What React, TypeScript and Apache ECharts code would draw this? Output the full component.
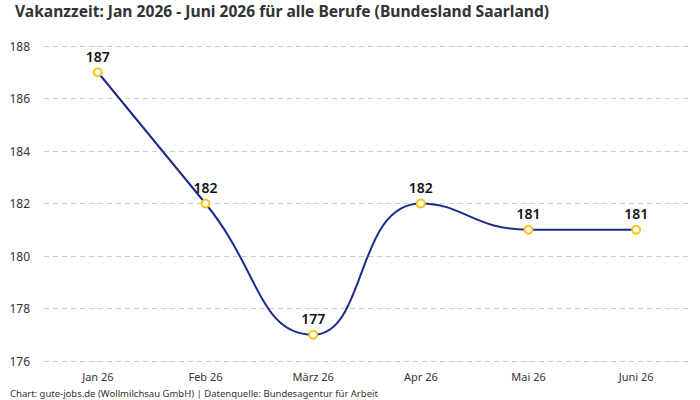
import React, { useEffect, useRef } from "react";
import * as echarts from "echarts";

const categories = ["Jan 26", "Feb 26", "März 26", "Apr 26", "Mai 26", "Juni 26"];
const values = [187, 182, 177, 182, 181, 181];
const titleText = "Vakanzzeit: Jan 2026 - Juni 2026 für alle Berufe (Bundesland Saarland)";
const footerText = "Chart: gute-jobs.de (Wollmilchsau GmbH) | Datenquelle: Bundesagentur für Arbeit";

export default function App() {
  const ref = useRef<HTMLDivElement>(null);
  useEffect(() => {
    if (!ref.current) return;
    const chart = echarts.init(ref.current, null, { renderer: "svg" });
    const font = "'Noto Sans', sans-serif";
    chart.setOption({
      animation: false,
      textStyle: { fontFamily: font },
      title: {
        text: titleText,
        left: 10,
        top: -2,
        textStyle: { fontFamily: font, fontSize: 15.6, fontWeight: "bold", color: "#333" },
      },
      graphic: [
        {
          type: "text",
          left: 10,
          top: 388,
          style: { text: footerText, fontFamily: font, fontSize: 9.5, fill: "#333" },
        },
      ],
      grid: { left: 44, right: 10, top: 46, bottom: 39, containLabel: false },
      xAxis: {
        type: "category",
        data: categories,
        boundaryGap: true,
        axisLine: { show: false },
        axisTick: { show: false },
        axisLabel: { color: "#333", fontSize: 11, margin: 10 },
      },
      yAxis: {
        type: "value",
        min: 176,
        max: 188,
        interval: 2,
        axisLine: { show: false },
        axisTick: { show: false },
        axisLabel: { color: "#333", fontSize: 12, margin: 14 },
        splitLine: { lineStyle: { color: "#ccc", type: [5, 4] } },
      },
      series: [
        {
          type: "line",
          data: values,
          smooth: true,
          symbol: "circle",
          symbolSize: 8,
          lineStyle: { color: "#1b2a8c", width: 2 },
          itemStyle: { color: "#fff", borderColor: "#f5c518", borderWidth: 2 },
          label: {
            show: true,
            position: "top",
            distance: 4,
            fontSize: 14,
            fontWeight: 600,
            color: "#111",
            fontFamily: font,
          },
        },
      ],
    });
    return () => chart.dispose();
  }, []);
  return <div ref={ref} style={{ width: 700, height: 400, position: "absolute", left: 0, top: 0 }} />;
}
